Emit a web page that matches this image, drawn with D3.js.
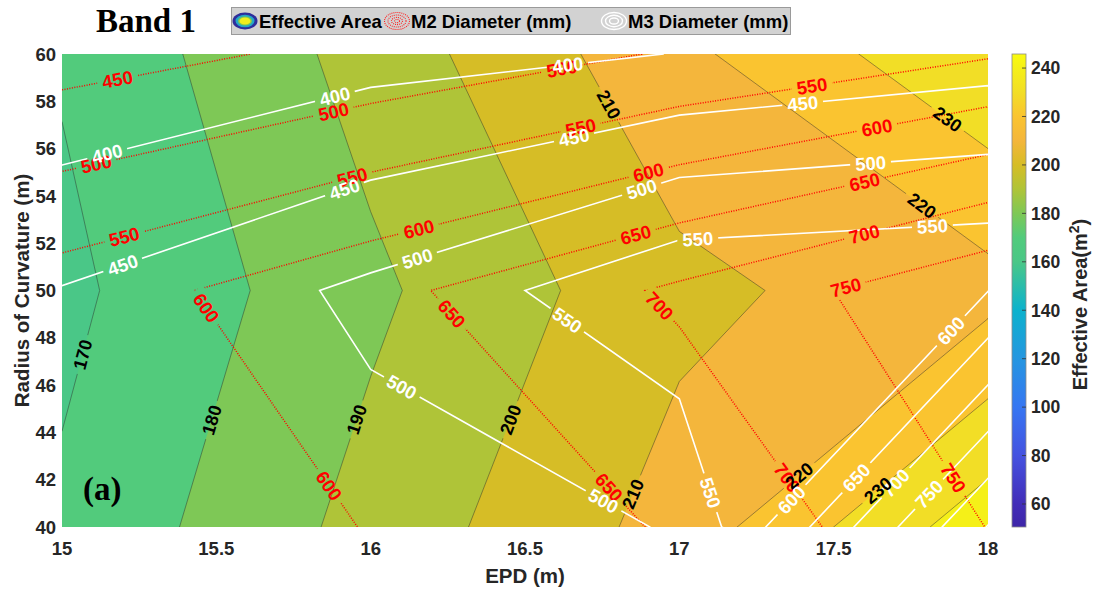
<!DOCTYPE html>
<html>
<head>
<meta charset="utf-8">
<script src="https://cdn.jsdelivr.net/npm/d3@7"></script>
<style>
  body { margin: 0; background: #fff; }
  svg text { font-family: "Liberation Sans", Arial, Helvetica, sans-serif; }
  .serif { font-family: "Liberation Serif", "Times New Roman", serif !important; }
</style>
</head>
<body>
<svg id="chart" width="1094" height="592"></svg>
<script>
// ---- grid axes ----
const epd = [15, 16, 17, 18];          // EPD (m)
const radius = [40, 50, 60];           // radius of curvature (m)

// ---- effective area (m^2), one row per radius ----
const areaR40 = [171.7, 193.5, 214.0, 246.0];
const areaR50 = [167.5, 188.0, 207.5, 216.5];
const areaR60 = [171.0, 194.0, 217.5, 239.0];

// ---- M2 diameter (mm) ----
const m2R40 = [555, 602, 656, 751];
const m2R50 = [573, 636, 708, 792];
const m2R60 = [428, 464, 505, 545];

// ---- M3 diameter (mm) ----
const m3R40 = [470, 481, 502, 852];
const m3R50 = [452, 509.5, 590.5, 599];
const m3R60 = [354, 382, 401, 427];

// ---- contour levels ----
const areaLevels = [160, 170, 180, 190, 200, 210, 220, 230, 240];
const m2Levels = [450, 500, 550, 600, 650, 700, 750, 800];
const m3Levels = [400, 450, 500, 550, 600, 650, 700, 750, 800, 850];

// ---- ticks ----
const epdTicks = [15, 15.5, 16, 16.5, 17, 17.5, 18];
const radiusTicks = [40, 42, 44, 46, 48, 50, 52, 54, 56, 58, 60];
const colorbarTicks = [60, 80, 100, 120, 140, 160, 180, 200, 220, 240];
const colorLimits = [50.5, 245.8];

// ---- inline label spots: [level, EPD, radius] near which each label sits ----
const areaLabelSpots = [
  [170, 15.065, 47.3], [180, 15.49, 44.5], [190, 15.965, 44.5], [200, 16.46, 44.5],
  [210, 16.85, 41.4], [210, 16.77, 57.85], [220, 17.77, 53.3], [230, 17.85, 56.9],
  [220, 17.38, 42.3], [230, 17.64, 41.6]
];
const m2LabelSpots = [
  [450, 15.18, 58.9], [500, 15.11, 55.4], [500, 15.88, 57.55], [500, 16.62, 59.3],
  [550, 15.2, 52.35], [550, 15.94, 54.8], [550, 16.68, 56.9], [550, 17.43, 58.6],
  [600, 15.46, 49.2], [600, 16.16, 52.4], [600, 16.9, 55.0], [600, 17.64, 56.9], [600, 15.86, 41.7],
  [650, 16.27, 49.1], [650, 16.86, 52.3], [650, 17.6, 54.6], [650, 16.77, 41.65],
  [700, 16.94, 49.4], [700, 17.6, 52.35], [700, 17.34, 42.0],
  [750, 17.54, 50.1], [750, 17.89, 42.1]
];
const m3LabelSpots = [
  [400, 15.15, 55.6], [400, 15.89, 57.9], [400, 16.64, 59.4],
  [450, 15.2, 50.95], [450, 15.92, 54.1], [450, 16.66, 56.4], [450, 17.4, 57.85],
  [500, 16.15, 51.4], [500, 16.88, 54.2], [500, 17.62, 55.3], [500, 16.1, 45.9], [500, 16.75, 41.0],
  [550, 16.64, 48.8], [550, 17.06, 52.1], [550, 17.82, 52.7], [550, 17.09, 41.4],
  [600, 17.88, 48.3], [600, 17.36, 41.2], [650, 17.58, 42.0], [700, 17.69, 42.0], [750, 17.8, 41.5]
];

// ---- colormap (parula-like) ----
const cmapStops = [50, 60, 80, 100, 120, 140, 160, 170, 180, 190, 200, 210, 220, 230, 240, 246];
const cmapColors = ["#3e26a8", "#422db8", "#4552e0", "#3676f2", "#2596e0", "#0cb2cd", "#4ac787",
  "#52cb7c", "#7ec856", "#afc438", "#d6bd26", "#f4b63c", "#fac430", "#f2de26", "#f5f018", "#f9fb0e"];
const cmap = d3.scaleLinear().domain(cmapStops).range(cmapColors).clamp(true);

// ---- layout ----
const W = 1094, H = 592;
const plot = { left: 62, right: 988, top: 54, bottom: 527 };

const svg = d3.select("#chart");
const defs = svg.append("defs");
defs.append("clipPath").attr("id", "plotClip")
  .append("rect").attr("x", plot.left).attr("y", plot.top)
  .attr("width", plot.right - plot.left).attr("height", plot.bottom - plot.top);

const x = d3.scaleLinear().domain([epd[0], epd[epd.length - 1]]).range([plot.left, plot.right]);
const y = d3.scaleLinear().domain([radius[0], radius[radius.length - 1]]).range([plot.bottom, plot.top]);

// d3.contours places sample i at grid coordinate i + 0.5
const gridToEpd = d3.scaleLinear().domain([0.5, epd.length - 0.5]).range([epd[0], epd[epd.length - 1]]);
const gridToR = d3.scaleLinear().domain([0.5, radius.length - 0.5]).range([radius[0], radius[radius.length - 1]]);
const toPx = p => [x(gridToEpd(p[0])), y(gridToR(p[1]))];
const path = d3.geoPath(d3.geoTransform({
  point(px, py) { const q = toPx([px, py]); this.stream.point(q[0], q[1]); }
}));
const contourGen = d3.contours().size([epd.length, radius.length]);

const areaGrid = [areaR40, areaR50, areaR60].flat();
const m2Grid = [m2R40, m2R50, m2R60].flat();
const m3Grid = [m3R40, m3R50, m3R60].flat();

const contourAt = (grid, level) => contourGen.thresholds([level])(grid)[0];

// ---- filled effective-area bands ----
const fillG = svg.append("g").attr("clip-path", "url(#plotClip)");
areaLevels.forEach(lv => {
  fillG.append("path").attr("d", path(contourAt(areaGrid, lv)))
    .attr("fill", cmap(lv)).attr("stroke", "none");
});

// segments of a contour that lie inside the plot, in pixels
function insideSegments(grid, level) {
  const c = contourAt(grid, level);
  const segs = [];
  c.coordinates.forEach(poly => poly.forEach(ring => {
    for (let i = 1; i < ring.length; i++) {
      const a = toPx(ring[i - 1]), b = toPx(ring[i]);
      const mx = (a[0] + b[0]) / 2, my = (a[1] + b[1]) / 2;
      if (mx > plot.left - 0.5 && mx < plot.right + 0.5 && my > plot.top - 0.5 && my < plot.bottom + 0.5) segs.push([a, b]);
    }
  }));
  return segs;
}

function snap(segs, p) {
  let best = null;
  segs.forEach(([a, b]) => {
    const dx = b[0] - a[0], dy = b[1] - a[1];
    const L2 = dx * dx + dy * dy || 1;
    let t = ((p[0] - a[0]) * dx + (p[1] - a[1]) * dy) / L2;
    t = Math.max(0, Math.min(1, t));
    const q = [a[0] + t * dx, a[1] + t * dy];
    const d = Math.hypot(q[0] - p[0], q[1] - p[1]);
    if (!best || d < best.d) {
      let ang = Math.atan2(dy, dx) * 180 / Math.PI;
      if (ang > 90) ang -= 180;
      if (ang <= -90) ang += 180;
      best = { d, q, ang };
    }
  });
  return best;
}

// one contour family: lines with gaps for their inline labels
function contourFamily(id, grid, levels, spots, lineStyle, textStyle) {
  const mask = defs.append("mask").attr("id", id + "Mask")
    .attr("maskUnits", "userSpaceOnUse").attr("x", 0).attr("y", 0).attr("width", W).attr("height", H);
  mask.append("rect").attr("width", W).attr("height", H).attr("fill", "white");

  const lineG = svg.append("g").attr("clip-path", "url(#plotClip)")
    .append("g").attr("mask", `url(#${id}Mask)`);
  levels.forEach(lv => {
    lineG.append("path").attr("d", path(contourAt(grid, lv)))
      .attr("fill", "none").call(lineStyle);
  });

  const placed = spots.map(([lv, e, r]) => {
    const s = snap(insideSegments(grid, lv), [x(e), y(r)]);
    return { lv, s };
  }).filter(d => d.s);

  return function drawLabels() {
    const labelG = svg.append("g");
    placed.forEach(({ lv, s }) => {
      const tf = `translate(${s.q[0]},${s.q[1]}) rotate(${s.ang})`;
      const t = labelG.append("text").attr("transform", tf)
        .attr("text-anchor", "middle").attr("dy", "0.36em").text(lv).call(textStyle);
      const w = t.node().getComputedTextLength();
      mask.append("rect").attr("transform", tf)
        .attr("x", -w / 2 - 5).attr("y", -10).attr("width", w + 10).attr("height", 20).attr("fill", "black");
    });
  };
}

const areaLabels = contourFamily("area", areaGrid, areaLevels.slice(1), areaLabelSpots,
  p => p.attr("stroke", "#2b2b2b").attr("stroke-width", 0.6).attr("stroke-opacity", 0.75),
  t => t.attr("fill", "#000").attr("font-size", 18).attr("font-weight", "bold"));
const m2Labels = contourFamily("m2", m2Grid, m2Levels, m2LabelSpots,
  p => p.attr("stroke", "#ff0000").attr("stroke-width", 1.5).attr("stroke-dasharray", "1 1.5"),
  t => t.attr("fill", "#ff0000").attr("font-size", 18.5).attr("font-weight", "bold"));
const m3Labels = contourFamily("m3", m3Grid, m3Levels, m3LabelSpots,
  p => p.attr("stroke", "#ffffff").attr("stroke-width", 1.6),
  t => t.attr("fill", "#ffffff").attr("font-size", 18.5).attr("font-weight", "bold"));

m2Labels();
m3Labels();
areaLabels();

// ---- axes ----
const tickColor = "#262626";
svg.append("g").selectAll("text").data(epdTicks).join("text")
  .attr("x", d => x(d)).attr("y", 555).attr("text-anchor", "middle")
  .attr("font-size", 18.5).attr("font-weight", "bold").attr("fill", tickColor).text(d => d);
svg.append("g").selectAll("text").data(radiusTicks).join("text")
  .attr("x", 56).attr("y", d => y(d)).attr("dy", "0.36em").attr("text-anchor", "end")
  .attr("font-size", 18.5).attr("font-weight", "bold").attr("fill", tickColor).text(d => d);

svg.append("text").attr("x", (plot.left + plot.right) / 2).attr("y", 583)
  .attr("text-anchor", "middle").attr("font-size", 20.5).attr("font-weight", "bold")
  .attr("fill", tickColor).text("EPD (m)");
svg.append("text").attr("transform", `translate(29,${(plot.top + plot.bottom) / 2}) rotate(-90)`)
  .attr("text-anchor", "middle").attr("font-size", 20.5).attr("font-weight", "bold")
  .attr("fill", tickColor).text("Radius of Curvature (m)");

// ---- colorbar ----
const cb = { x: 1012, w: 14 };
const cbY = d3.scaleLinear().domain(colorLimits).range([plot.bottom, plot.top]);
const grad = defs.append("linearGradient").attr("id", "cbGrad")
  .attr("x1", 0).attr("y1", 1).attr("x2", 0).attr("y2", 0);
cmapStops.forEach(v => {
  const o = (v - colorLimits[0]) / (colorLimits[1] - colorLimits[0]);
  grad.append("stop").attr("offset", Math.max(0, Math.min(1, o))).attr("stop-color", cmap(v));
});
svg.append("rect").attr("x", cb.x).attr("y", plot.top).attr("width", cb.w)
  .attr("height", plot.bottom - plot.top).attr("fill", "url(#cbGrad)")
  .attr("stroke", "#8a8a8a").attr("stroke-width", 0.8);
svg.append("g").selectAll("line").data(colorbarTicks).join("line")
  .attr("x1", cb.x + cb.w - 4).attr("x2", cb.x + cb.w)
  .attr("y1", d => cbY(d)).attr("y2", d => cbY(d))
  .attr("stroke", "#333").attr("stroke-width", 0.8);
svg.append("g").selectAll("text").data(colorbarTicks).join("text")
  .attr("x", 1031).attr("y", d => cbY(d)).attr("dy", "0.36em")
  .attr("font-size", 17.5).attr("font-weight", "bold").attr("fill", tickColor).text(d => d);
const cbLabel = svg.append("text")
  .attr("transform", `translate(1087,${(plot.top + plot.bottom) / 2 + 14}) rotate(-90)`)
  .attr("text-anchor", "middle").attr("font-size", 20).attr("font-weight", "bold").attr("fill", tickColor);
cbLabel.append("tspan").text("Effective Area(m");
cbLabel.append("tspan").attr("font-size", 14).attr("dy", -8).text("2");
cbLabel.append("tspan").attr("dy", 8).text(")");

// ---- title and panel tag ----
svg.append("text").attr("class", "serif").attr("x", 96).attr("y", 32)
  .attr("font-size", 33).attr("font-weight", "bold").attr("fill", "#000").text("Band 1");
svg.append("text").attr("class", "serif").attr("x", 83).attr("y", 500)
  .attr("font-size", 33).attr("font-weight", "bold").attr("fill", "#000").text("(a)");

// ---- legend ----
const lg = svg.append("g");
lg.append("rect").attr("x", 231.5).attr("y", 7.5).attr("width", 559).attr("height", 27)
  .attr("fill", "#d2d2d2").attr("stroke", "#9a9a9a").attr("stroke-width", 1);
const areaIcon = lg.append("g").attr("transform", "translate(245,21)");
[[12.5, 8.5, "#2e2e9c"], [9.5, 6.3, "#25a8c6"], [7, 4.6, "#86c84e"], [5.5, 3.6, "#f2ee1e"]]
  .forEach(([rx, ry, c]) => areaIcon.append("ellipse").attr("rx", rx).attr("ry", ry).attr("fill", c));
const m2Icon = lg.append("g").attr("transform", "translate(397,21)");
[[12.5, 8.5], [9, 6], [5.5, 3.6], [2.5, 1.6]].forEach(([rx, ry]) => m2Icon.append("ellipse")
  .attr("rx", rx).attr("ry", ry).attr("fill", "none").attr("stroke", "#ff2020")
  .attr("stroke-width", 1.1).attr("stroke-dasharray", "1 1"));
const m3Icon = lg.append("g").attr("transform", "translate(614,21)");
[[12.5, 8.5], [8.5, 5.7], [4.5, 3]].forEach(([rx, ry]) => m3Icon.append("ellipse")
  .attr("rx", rx).attr("ry", ry).attr("fill", "none").attr("stroke", "#ffffff").attr("stroke-width", 1.4));
[["Effective Area", 259], ["M2 Diameter (mm)", 411], ["M3 Diameter (mm)", 628]].forEach(([t, px]) => {
  lg.append("text").attr("x", px).attr("y", 28).attr("font-size", 18.5).attr("font-weight", "bold")
    .attr("fill", "#000").text(t);
});
</script>
</body>
</html>
